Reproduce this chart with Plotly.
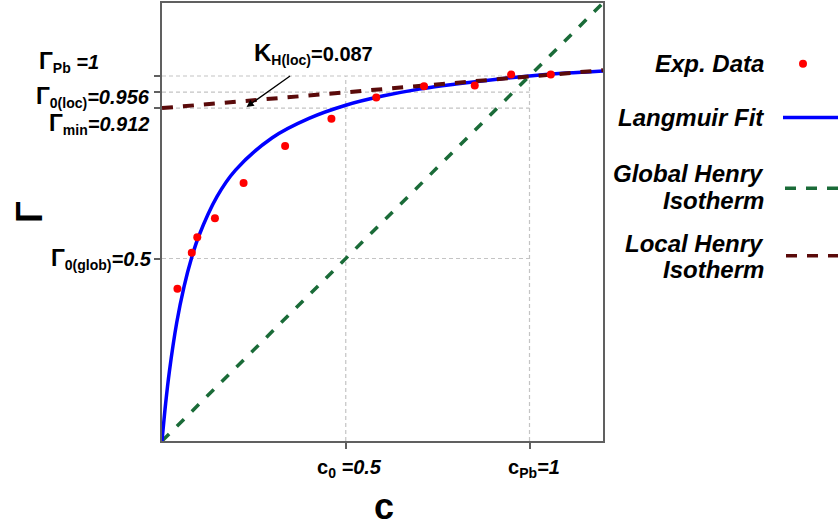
import plotly.graph_objects as go

# ---------------- data ----------------
exp_c = [0.042, 0.081, 0.096, 0.144, 0.222, 0.335, 0.461, 0.583, 0.713, 0.851, 0.950, 1.058]
exp_G = [0.417, 0.516, 0.558, 0.610, 0.707, 0.808, 0.883, 0.941, 0.972, 0.974, 1.004, 1.004]

# Langmuir fit curve values
fit_c = [0, 0.01, 0.02, 0.04, 0.06, 0.08, 0.10, 0.15, 0.20, 0.30, 0.40, 0.50,
         0.60, 0.70, 0.80, 0.90, 1.00, 1.10, 1.20]
fit_G = [0, 0.104, 0.190, 0.324, 0.423, 0.500, 0.561, 0.670, 0.742, 0.831, 0.884, 0.920,
         0.945, 0.964, 0.978, 0.990, 1.000, 1.008, 1.014]

glob_c = [0, 1.2]
glob_G = [0, 1.2]

loc_c = [0, 1.2]
loc_G = [0.912, 1.016]

y_ticks = [0.5, 0.912, 0.956, 1.0]
x_ticks = [0.5, 1.0]

legend_names = ["Exp. Data", "Langmuir Fit", ["Global Henry", "Isotherm"], ["Local Henry", "Isotherm"]]

FONT = "Liberation Sans, Arial, sans-serif"
RED = "#ff0000"
BLUE = "#0000ff"
GREEN = "#1a6b38"
DRED = "#5a0a0a"
GRID = "#c4c4c4"
FRAME = "#606060"

fig = go.Figure()

fig.add_trace(go.Scatter(x=glob_c, y=glob_G, mode="lines",
                         line=dict(color=GREEN, width=3.5, dash="10px,11px"),
                         showlegend=False, hoverinfo="skip"))
fig.add_trace(go.Scatter(x=fit_c, y=fit_G, mode="lines", line_shape="spline",
                         line=dict(color=BLUE, width=3.5),
                         showlegend=False, hoverinfo="skip"))
fig.add_trace(go.Scatter(x=loc_c, y=loc_G, mode="lines",
                         line=dict(color=DRED, width=4, dash="11px,10px"),
                         showlegend=False, hoverinfo="skip"))
fig.add_trace(go.Scatter(x=exp_c, y=exp_G, mode="markers",
                         marker=dict(color=RED, size=8),
                         showlegend=False, hoverinfo="skip"))

shapes = []
# partial dashed grid lines
for g in y_ticks:
    shapes.append(dict(type="line", xref="x", yref="y", x0=0, x1=1.0, y0=g, y1=g,
                       line=dict(color=GRID, width=1.2, dash="4px,3px"), layer="below"))
for c in x_ticks:
    shapes.append(dict(type="line", xref="x", yref="y", x0=c, x1=c, y0=0, y1=1.0,
                       line=dict(color=GRID, width=1.2, dash="4px,3px"), layer="below"))


def px(X):
    return (X - 162) / 441.0


def py(Y):
    return (441 - Y) / 440.0


# manual legend (symbols to the right of the text)
shapes.append(dict(type="circle", xref="paper", yref="paper", xsizemode="pixel", ysizemode="pixel",
                   xanchor=px(803), yanchor=py(62), x0=-4, x1=4, y0=-4, y1=4,
                   fillcolor=RED, line=dict(width=0)))
shapes.append(dict(type="line", xref="paper", yref="paper", x0=px(783), x1=px(845), y0=py(116), y1=py(116),
                   line=dict(color=BLUE, width=3.5)))
shapes.append(dict(type="line", xref="paper", yref="paper", x0=px(785), x1=px(845), y0=py(187), y1=py(187),
                   line=dict(color=GREEN, width=3.5, dash="11px,10px")))
shapes.append(dict(type="line", xref="paper", yref="paper", x0=px(786), x1=px(845), y0=py(255), y1=py(255),
                   line=dict(color=DRED, width=3.5, dash="11px,10px")))

ann = []
leg_font = dict(family=FONT, size=24, color="black")
leg_rows = [(legend_names[0], [62]), (legend_names[1], [116]),
            (legend_names[2], [172, 199]), (legend_names[3], [243, 269])]
for name, ys in leg_rows:
    lines = name if isinstance(name, list) else [name]
    for txt, Y in zip(lines, ys):
        ann.append(dict(xref="paper", yref="paper", x=px(766), y=py(Y), xanchor="right", yanchor="middle",
                        text="<b><i>" + txt + "</i></b>", showarrow=False, align="right", font=leg_font))

lab_font = dict(family=FONT, size=20, color="black")
G = "<span style='font-size:23px'>Γ</span>"
# left labels: (text, right edge px, main-text centre px)
left_labels = [
    ("<b>" + G + "<sub>Pb</sub> <i>=1</i></b>", 101, 56),
    ("<b>" + G + "<sub>0(loc)</sub><i>=0.956</i></b>", 152, 91),
    ("<b>" + G + "<sub>min</sub><i>=0.912</i></b>", 151, 119),
    ("<b>" + G + "<sub>0(glob)</sub><i>=0.5</i></b>", 154, 254),
]
for txt, xr, yc in left_labels:
    ann.append(dict(xref="paper", yref="paper", x=px(xr), y=py(yc + 4), xanchor="right", yanchor="middle",
                    text=txt, showarrow=False, font=lab_font))

bottom_labels = [
    ("<b>c<sub>0</sub> <i>=0.5</i></b>", 349),
    ("<b>c<sub>Pb</sub><i>=1</i></b>", 534),
]
for txt, xc in bottom_labels:
    ann.append(dict(xref="paper", yref="paper", x=px(xc), y=py(454), xanchor="center", yanchor="top",
                    text=txt, showarrow=False, font=lab_font))

# K_H(loc) annotation
ann.append(dict(xref="paper", yref="paper", x=px(252), y=py(52), xanchor="left", yanchor="middle",
                text="<b><span style='font-size:24px'>K</span><sub>H(loc)</sub>=0.087</b>",
                showarrow=False, font=lab_font))
ann.append(dict(xref="x", yref="y", x=(246.7 - 162) / 368, y=(441 - 106) / 366, text="",
                showarrow=True, arrowhead=2, arrowsize=1.1, arrowwidth=1.3, arrowcolor="black",
                axref="pixel", ayref="pixel", ax=45, ay=-32))

# axis titles
ann.append(dict(xref="paper", yref="paper", x=px(29), y=py(211), xanchor="center", yanchor="middle",
                text="<b>Γ</b>", textangle=-90, showarrow=False,
                font=dict(family=FONT, size=36, color="black")))
ann.append(dict(xref="paper", yref="paper", x=px(384), y=py(528), xanchor="center", yanchor="bottom",
                text="<b>c</b>", showarrow=False, borderpad=0,
                font=dict(family=FONT, size=36, color="black")))

fig.update_layout(
    width=838, height=528,
    margin=dict(l=162, r=235, t=1, b=87),
    paper_bgcolor="white", plot_bgcolor="white",
    shapes=shapes, annotations=ann,
    showlegend=False,
    font=dict(family=FONT),
)
fig.update_xaxes(range=[0, 1.2], showgrid=False, zeroline=False, showline=True, mirror=True,
                 linecolor=FRAME, linewidth=2, tickvals=x_ticks, ticks="outside", ticklen=6,
                 tickcolor=FRAME, tickwidth=1.5, showticklabels=False)
fig.update_yaxes(range=[0, 1.2], showgrid=False, zeroline=False, showline=True, mirror=True,
                 linecolor=FRAME, linewidth=2, tickvals=y_ticks, ticks="outside", ticklen=6,
                 tickcolor=FRAME, tickwidth=1.5, showticklabels=False)

fig.write_html("out.html")
